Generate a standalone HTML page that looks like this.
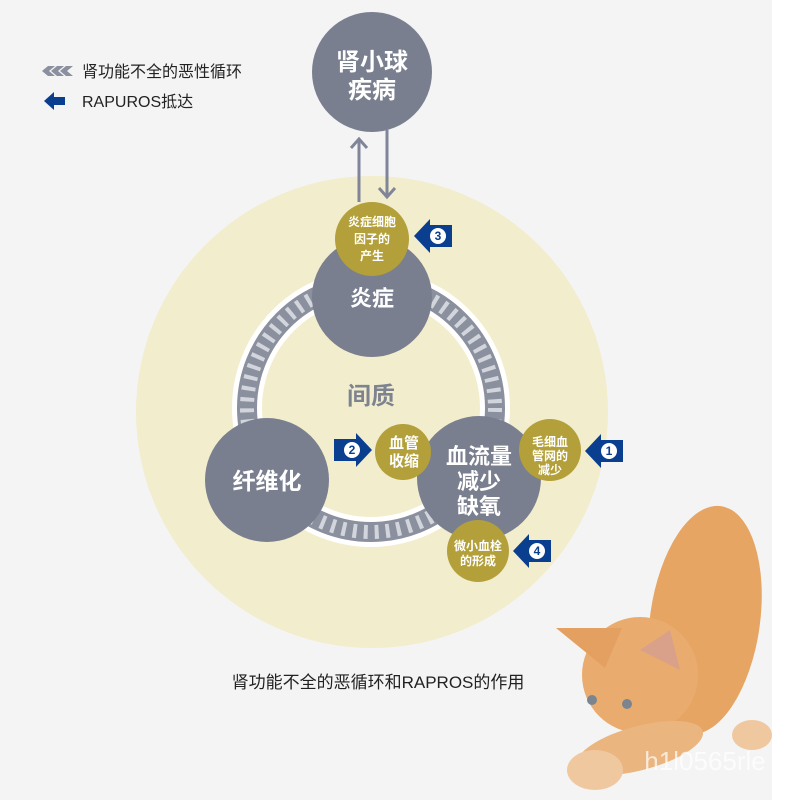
<!DOCTYPE html>
<html><head><meta charset="utf-8"><style>
html,body{margin:0;padding:0;background:#f4f4f5;}
body{width:800px;height:800px;overflow:hidden;position:relative;font-family:"Liberation Sans","Noto Sans CJK SC",sans-serif;}
</style></head><body>
<svg width="800" height="800" viewBox="0 0 800 800" xmlns="http://www.w3.org/2000/svg" style="position:absolute;left:0;top:0">
<defs>
<g id="barrow"><polygon points="0,0 16,-17 16,-11 38,-11 38,11 16,11 16,17" fill="#0a3e8e"/><circle cx="24" cy="0" r="8" fill="#fff"/></g>
</defs>
<rect x="772" y="0" width="28" height="800" fill="#fff"/>
<circle cx="372" cy="412" r="236" fill="#f2edcc"/>
<!-- ring -->
<circle cx="371" cy="408" r="124" fill="none" stroke="#fff" stroke-width="30"/>
<circle cx="371" cy="408" r="124" fill="none" stroke="#8b909e" stroke-width="20"/>
<circle cx="371" cy="408" r="124" fill="none" stroke="#d2d5dc" stroke-width="14" stroke-dasharray="4 7"/>
<!-- arrows top -->
<g stroke="#80859a" stroke-width="3" fill="none">
<line x1="359" y1="202" x2="359" y2="140"/><polyline points="351,148 359,139 367,148"/>
<line x1="387" y1="130" x2="387" y2="196"/><polyline points="379,188 387,197 395,188"/>
</g>
<circle cx="372" cy="72" r="60" fill="#7a7f8f"/>
<circle cx="372" cy="297" r="60" fill="#7a7f8f"/>
<circle cx="267" cy="480" r="62" fill="#7a7f8f"/>
<circle cx="479" cy="478" r="62" fill="#7a7f8f"/>
<circle cx="372" cy="239" r="37" fill="#b3a03a"/>
<circle cx="403" cy="452" r="28" fill="#b3a03a"/>
<circle cx="550" cy="450" r="31" fill="#b3a03a"/>
<circle cx="478" cy="551" r="31" fill="#b3a03a"/>
<!-- blue arrows -->
<use href="#barrow" x="414" y="236"/>
<use href="#barrow" x="585" y="451"/>
<use href="#barrow" x="513" y="551"/>
<polygon points="372,450 356,433 356,439 334,439 334,461 356,461 356,467" fill="#0a3e8e"/>
<circle cx="352" cy="450" r="8" fill="#fff"/>
<g font-family="Liberation Sans" font-weight="bold" font-size="12" text-anchor="middle" fill="#0a3e8e">
<text x="438" y="240">3</text>
<text x="609" y="455">1</text>
<text x="537" y="555">4</text>
<text x="352" y="454">2</text>
</g>
<g fill="#fff" font-family="Liberation Sans,Noto Sans CJK SC,sans-serif" font-weight="bold" text-anchor="middle">
<text x="372" y="70" font-size="24">肾小球</text><text x="372" y="98" font-size="24">疾病</text>
<text x="372" y="306" font-size="22">炎症</text>
<text x="267" y="489" font-size="23">纤维化</text>
<text x="479" y="464" font-size="22">血流量</text><text x="479" y="489" font-size="22">减少</text><text x="479" y="514" font-size="22">缺氧</text>
<text x="372" y="226" font-size="12">炎症细胞</text><text x="372" y="243" font-size="12">因子的</text><text x="372" y="260" font-size="12">产生</text>
<text x="404" y="448" font-size="15">血管</text><text x="404" y="466" font-size="15">收缩</text>
<text x="550" y="446" font-size="12">毛细血</text><text x="550" y="460" font-size="12">管网的</text><text x="550" y="474" font-size="12">减少</text>
<text x="478" y="550" font-size="12">微小血栓</text><text x="478" y="565" font-size="12">的形成</text>
</g>
<text x="371" y="404" font-size="24" font-weight="bold" fill="#7e8390" text-anchor="middle" font-family="Liberation Sans,Noto Sans CJK SC,sans-serif">间质</text>
<!-- legend -->
<g fill="#8b909e"><polygon points="48,66 55,66 49,71 55,76 48,76 42,71"/><polygon points="57,66 64,66 58,71 64,76 57,76 51,71"/><polygon points="66,66 73,66 67,71 73,76 66,76 60,71"/></g>
<polygon points="44,101 54,92 54,97 65,97 65,105 54,105 54,110" fill="#0a3e8e"/>
<g fill="#222" font-size="16" font-family="Liberation Sans,Noto Sans CJK SC,sans-serif">
<text x="82" y="77">肾功能不全的恶性循环</text>
<text x="82" y="107">RAPUROS抵达</text>
<text x="378" y="688" text-anchor="middle" font-size="17">肾功能不全的恶循环和RAPROS的作用</text>
</g>
<!-- cat approximation -->
<g>
<ellipse cx="705" cy="620" rx="55" ry="115" fill="#e6a563" transform="rotate(8 705 620)"/>
<ellipse cx="640" cy="675" rx="58" ry="58" fill="#e9ac6e"/>
<polygon points="556,628 622,628 605,668" fill="#e4a061"/>
<polygon points="640,650 670,630 680,670" fill="#d9a08a"/>
<ellipse cx="640" cy="748" rx="65" ry="22" fill="#eab57f" transform="rotate(-15 640 748)"/>
<ellipse cx="595" cy="770" rx="28" ry="20" fill="#f0c8a0"/>
<ellipse cx="752" cy="735" rx="20" ry="15" fill="#f0c8a0"/>
<circle cx="592" cy="700" r="5" fill="#7a8590"/><circle cx="627" cy="704" r="5" fill="#7a8590"/>
</g>
<text x="705" y="770" font-size="26" fill="#fff" fill-opacity="0.7" text-anchor="middle" font-family="Liberation Sans">h1l0565rle</text>
</svg>
</body></html>
